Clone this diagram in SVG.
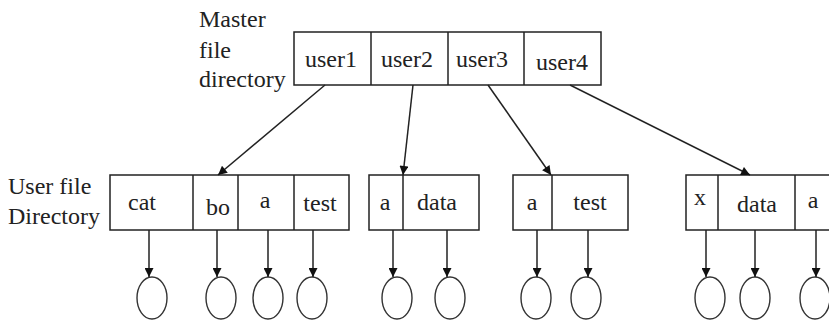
<svg xmlns="http://www.w3.org/2000/svg" width="829" height="322" viewBox="0 0 829 322">
<style>
text{font-family:"Liberation Serif","Times New Roman",serif;font-size:24px;fill:#222}
.m{text-anchor:middle}
.box{fill:none;stroke:#222;stroke-width:1.5}
.ln{stroke:#222;stroke-width:1.5;fill:none}
.c{fill:none;stroke:#333;stroke-width:1.4}
</style>
<defs>
<marker id="ah" viewBox="0 0 10 10" refX="10" refY="5" markerWidth="10" markerHeight="9" markerUnits="userSpaceOnUse" orient="auto"><path d="M0,0 L10,5 L0,10 z" fill="#111"/></marker>
</defs>
<rect width="829" height="322" fill="#fff"/>
<g id="master-label">
<text x="199" y="27">Master</text>
<text x="199" y="58">file</text>
<text x="199" y="87">directory</text>
</g>
<g id="master">
<rect class="box" x="294" y="32" width="307" height="53"/>
<line class="box" x1="371" y1="32" x2="371" y2="85"/>
<line class="box" x1="448" y1="32" x2="448" y2="85"/>
<line class="box" x1="524" y1="32" x2="524" y2="85"/>
<text class="m" x="331" y="67">user1</text>
<text class="m" x="407" y="67">user2</text>
<text class="m" x="482" y="67">user3</text>
<text class="m" x="562" y="70">user4</text>
</g>
<g id="ufd-label">
<text x="8" y="194">User file</text>
<text x="8" y="224">Directory</text>
</g>
<g id="ufd1">
<rect class="box" x="110" y="175" width="239" height="55"/>
<line class="box" x1="193" y1="175" x2="193" y2="230"/>
<line class="box" x1="238" y1="175" x2="238" y2="230"/>
<line class="box" x1="294" y1="175" x2="294" y2="230"/>
<text class="m" x="142" y="210">cat</text>
<text class="m" x="218" y="215">bo</text>
<text class="m" x="265" y="208">a</text>
<text class="m" x="320" y="211">test</text>
</g>
<g id="ufd2">
<rect class="box" x="369" y="175" width="110" height="55"/>
<line class="box" x1="403" y1="175" x2="403" y2="230"/>
<text class="m" x="385" y="210">a</text>
<text class="m" x="437" y="210">data</text>
</g>
<g id="ufd3">
<rect class="box" x="513" y="175" width="115" height="55"/>
<line class="box" x1="552" y1="175" x2="552" y2="230"/>
<text class="m" x="532" y="210">a</text>
<text class="m" x="590" y="210">test</text>
</g>
<g id="ufd4">
<rect class="box" x="686" y="175" width="150" height="55"/>
<line class="box" x1="718" y1="175" x2="718" y2="230"/>
<line class="box" x1="795" y1="175" x2="795" y2="230"/>
<text class="m" x="700" y="205">x</text>
<text class="m" x="757" y="212">data</text>
<text class="m" x="813" y="208">a</text>
</g>
<g id="files">
<ellipse class="c" cx="152" cy="298" rx="15" ry="21"/>
<ellipse class="c" cx="221" cy="298" rx="15" ry="21"/>
<ellipse class="c" cx="268" cy="298" rx="15" ry="21"/>
<ellipse class="c" cx="312" cy="298" rx="15" ry="21"/>
<ellipse class="c" cx="397" cy="298" rx="15" ry="21"/>
<ellipse class="c" cx="450" cy="298" rx="15" ry="21"/>
<ellipse class="c" cx="536" cy="298" rx="15" ry="21"/>
<ellipse class="c" cx="586" cy="298" rx="15" ry="21"/>
<ellipse class="c" cx="710" cy="298" rx="15" ry="21"/>
<ellipse class="c" cx="755" cy="298" rx="15" ry="21"/>
<ellipse class="c" cx="815" cy="298" rx="15" ry="21"/>
</g>
<g id="connectors">
<line class="ln" x1="325" y1="85" x2="218" y2="175" marker-end="url(#ah)"/>
<line class="ln" x1="413" y1="85" x2="403" y2="175" marker-end="url(#ah)"/>
<line class="ln" x1="488" y1="85" x2="551" y2="175" marker-end="url(#ah)"/>
<line class="ln" x1="570" y1="85" x2="750" y2="175" marker-end="url(#ah)"/>
<line class="ln" x1="149" y1="230" x2="149" y2="277" marker-end="url(#ah)"/>
<line class="ln" x1="217" y1="230" x2="217" y2="277" marker-end="url(#ah)"/>
<line class="ln" x1="268" y1="230" x2="268" y2="277" marker-end="url(#ah)"/>
<line class="ln" x1="313" y1="230" x2="313" y2="277" marker-end="url(#ah)"/>
<line class="ln" x1="393" y1="230" x2="393" y2="277" marker-end="url(#ah)"/>
<line class="ln" x1="447" y1="230" x2="447" y2="277" marker-end="url(#ah)"/>
<line class="ln" x1="537" y1="230" x2="537" y2="277" marker-end="url(#ah)"/>
<line class="ln" x1="588" y1="230" x2="588" y2="277" marker-end="url(#ah)"/>
<line class="ln" x1="706" y1="230" x2="706" y2="277" marker-end="url(#ah)"/>
<line class="ln" x1="755" y1="230" x2="755" y2="277" marker-end="url(#ah)"/>
<line class="ln" x1="816" y1="230" x2="816" y2="277" marker-end="url(#ah)"/>
</g>
</svg>
